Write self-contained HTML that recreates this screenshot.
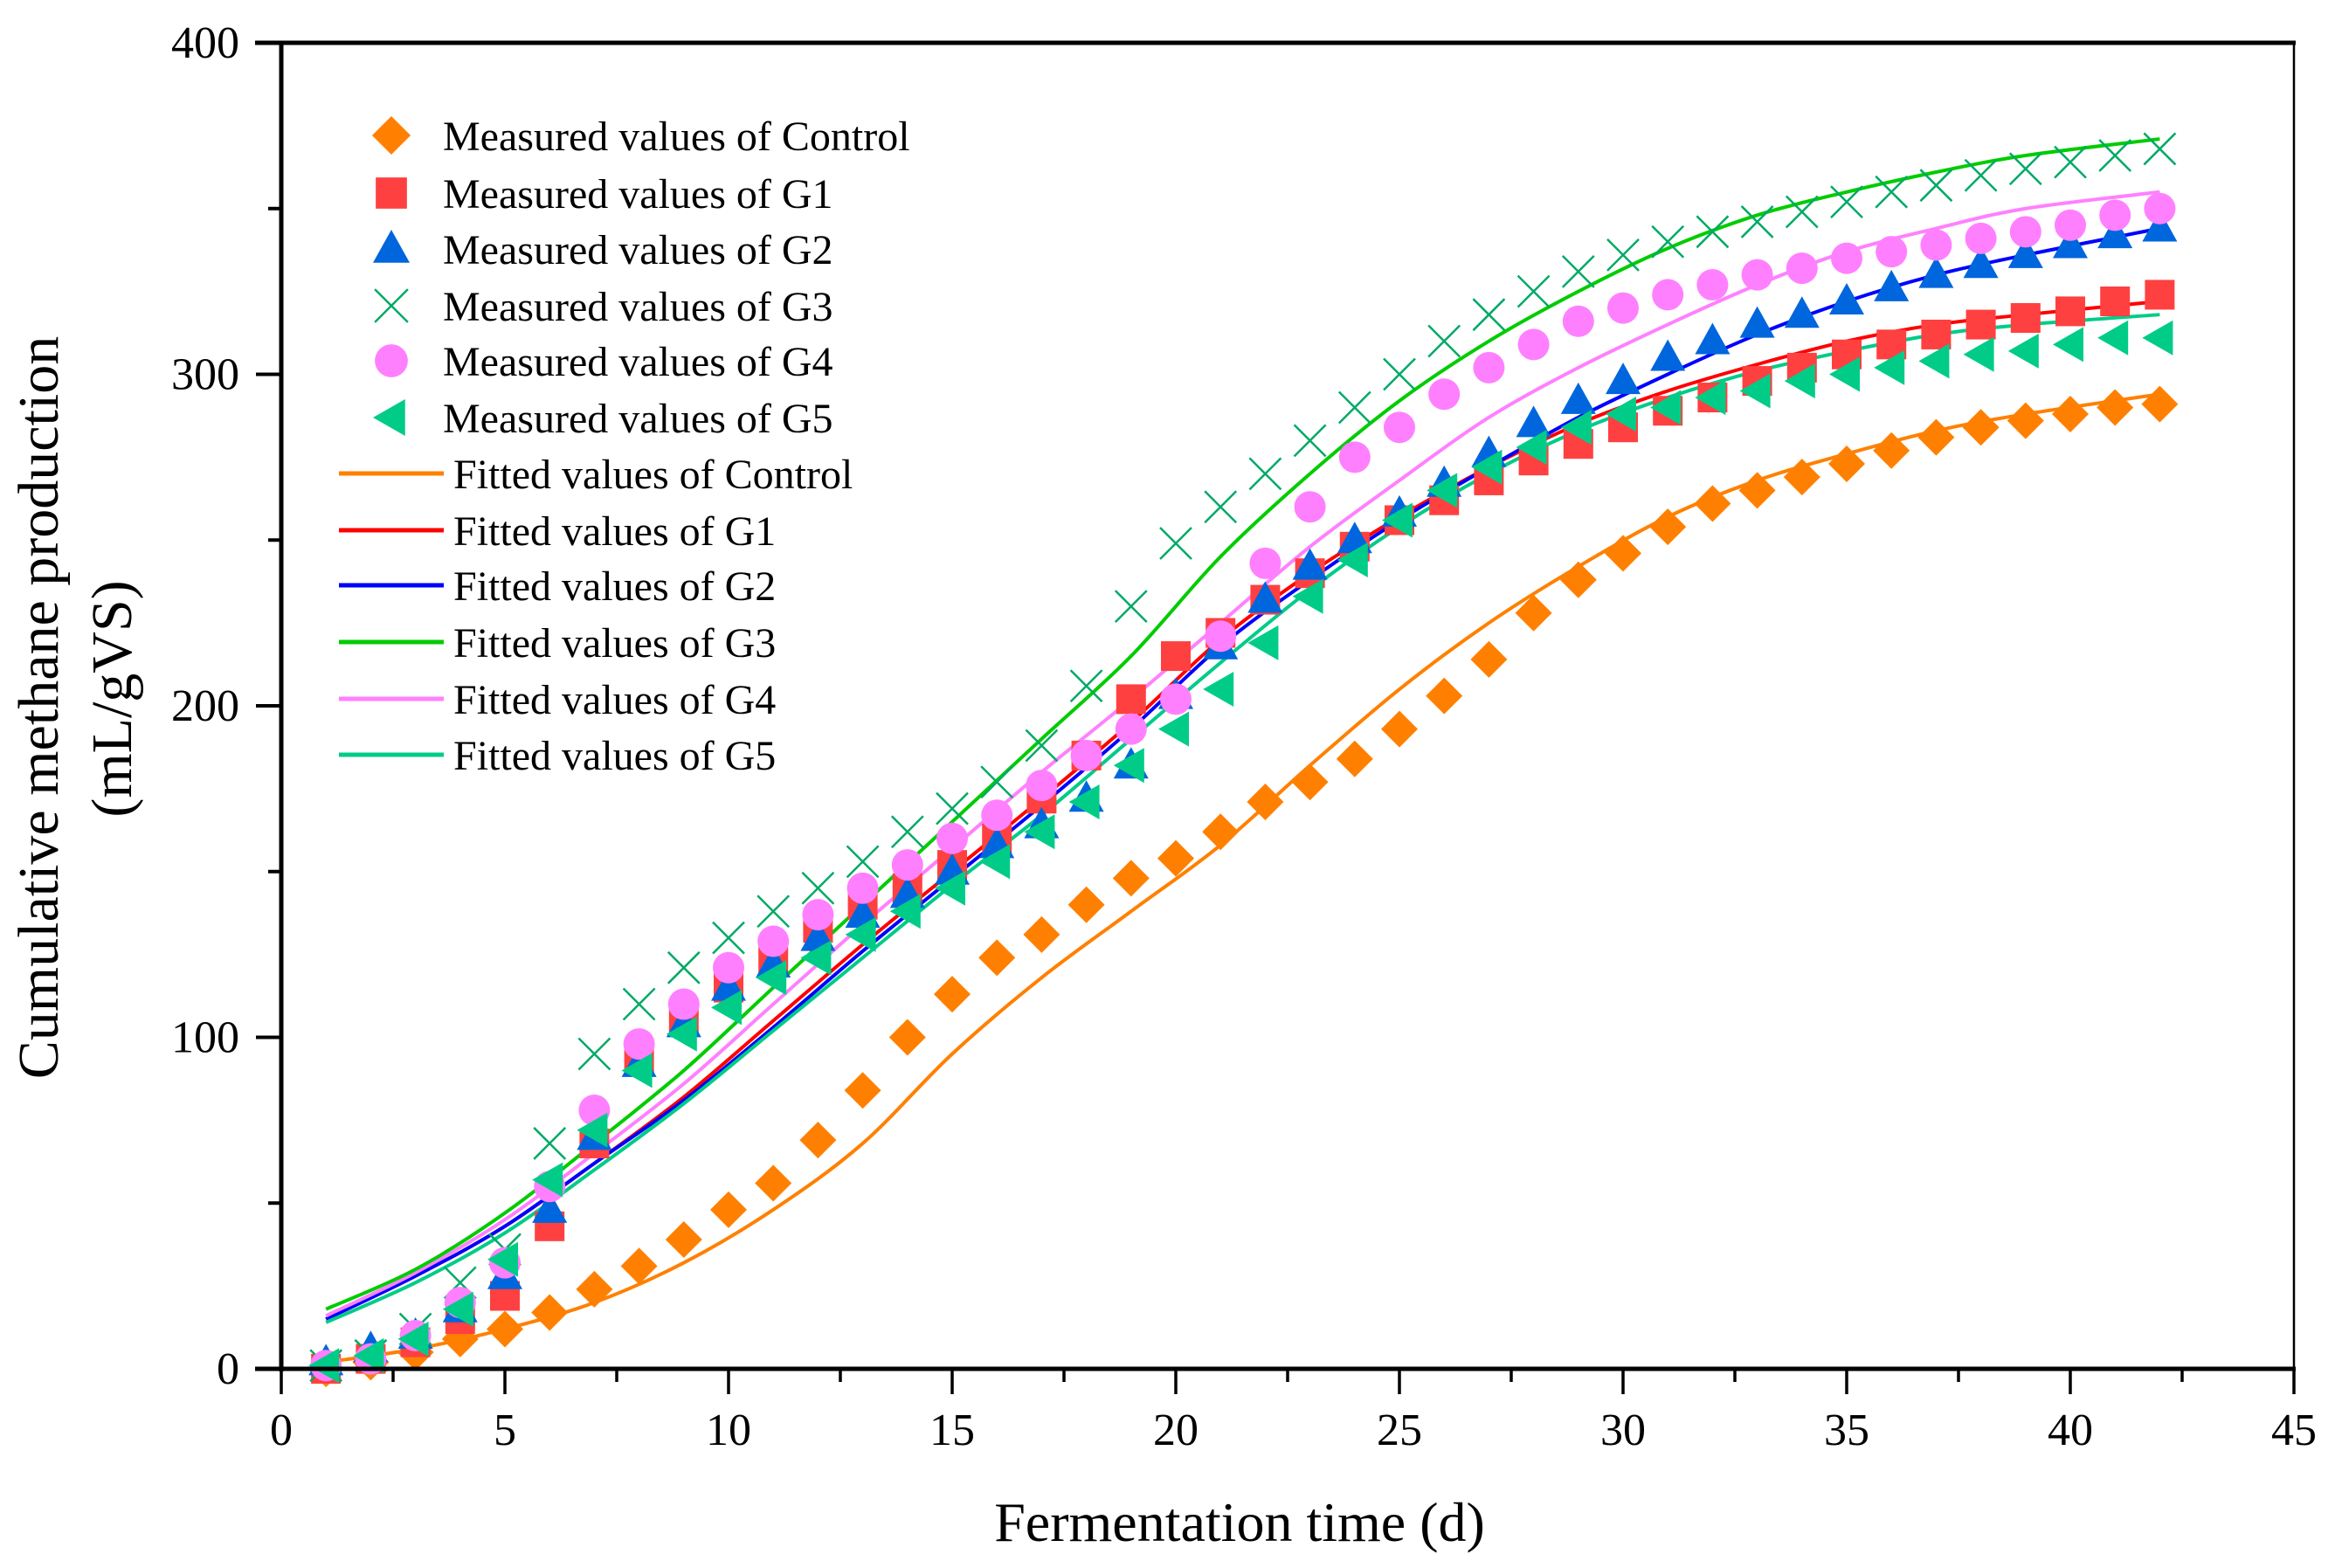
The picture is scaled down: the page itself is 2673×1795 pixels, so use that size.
<!DOCTYPE html>
<html><head><meta charset="utf-8"><style>
html,body{margin:0;padding:0;background:#fff;}
svg{display:block;font-family:"Liberation Serif",serif;}
</style></head><body>
<svg id="chart" width="2673" height="1795" viewBox="0 0 2673 1795" xmlns="http://www.w3.org/2000/svg"></svg>
<script>
const days = Array.from({length:42},(_,i)=>i+1);
const controlMeasured=[0,2,5,9,12,17,24,31,39,48,56,69,84,100,113,124,131,140,148,154,162,171,177,184,193,203,214,228,238,246,254,261,265,269,273,277,281,284,286,288,290,291];
const g1Measured=[0,3,8,15,22,43,68,93,106,115,124,133,140,145,152,160,172,185,202,215,222,232,240,248,256,262,268,274,279,284,289,293,298,302,306,309,312,315,317,319,322,324];
const g2Measured=[2,6,10,18,28,48,70,92,104,115,122,130,137,143,150,158,164,172,182,203,218,232,242,250,258,267,276,285,292,298,305,310,315,318,322,326,330,333,336,339,342,344];
const g3Measured=[1,4,12,26,36,68,95,110,121,130,138,145,153,162,169,177,188,206,230,249,260,270,280,290,300,310,318,325,331,336,340,343,346,349,352,355,357,360,362,364,366,368];
const g4Measured=[1,3,10,20,32,55,78,98,110,121,129,137,145,152,160,167,176,185,193,202,221,243,260,275,284,294,302,309,316,320,324,327,330,332,335,337,339,341,343,345,348,350];
const g5Measured=[1,4,9,18,33,57,72,90,101,109,118,124,131,138,145,153,162,171,182,193,205,219,233,244,256,265,272,278,284,288,290,293,295,298,300,302,304,306,307,309,311,311];
const fitDays=[1,3,5,7,9,11,13,15,17,19,21,23,25,27,29,31,33,35,37,39,42];
const controlFit=[2,6,12,20,32,48,68,95,118,138,158,182,205,225,242,257,268,276,283,288,294];
const g1Fit=[15,28,43,62,82,105,128,150,172,195,220,240,257,272,285,295,303,310,315,318,322];
const g2Fit=[15,28,43,62,81,103,126,148,170,193,218,238,256,272,287,300,312,322,330,336,344];
const g3Fit=[18,30,47,68,90,115,140,165,190,215,245,270,292,310,325,338,348,355,361,366,371];
const g4Fit=[16,29,45,65,86,110,134,157,180,202,225,248,268,287,302,315,327,337,344,350,355];
const g5Fit=[14,26,41,60,80,102,124,146,167,190,213,235,254,270,283,293,301,307,312,315,318];
const xTicks=[0,5,10,15,20,25,30,35,40,45];
const yTicks=[0,100,200,300,400];

const L=322,R=2626,T=49,B=1567;
const sx=v=>L+(v/45)*(R-L);
const sy=v=>B-(v/400)*(B-T);
const svg=document.getElementById('chart');
const NS='http://www.w3.org/2000/svg';
function mk(tag,attrs,parent){const e=document.createElementNS(NS,tag);for(const k in attrs)e.setAttribute(k,attrs[k]);(parent||svg).appendChild(e);return e;}

const fits=[[controlFit,'#ff8000','fit-control'],[g1Fit,'#ff0000','fit-g1'],[g2Fit,'#0000ff','fit-g2'],[g5Fit,'#00cc88','fit-g5'],[g4Fit,'#ff80ff','fit-g4'],[g3Fit,'#00cc00','fit-g3']];
function smoothPath(xs,ys){let d='M'+sx(xs[0])+','+sy(ys[0]);for(let i=0;i<xs.length-1;i++){const x0=xs[Math.max(i-1,0)],y0=ys[Math.max(i-1,0)],x1=xs[i],y1=ys[i],x2=xs[i+1],y2=ys[i+1],x3=xs[Math.min(i+2,xs.length-1)],y3=ys[Math.min(i+2,xs.length-1)];
const c1x=x1+(x2-x0)/6,c1y=y1+(y2-y0)/6,c2x=x2-(x3-x1)/6,c2y=y2-(y3-y1)/6;d+=' C'+sx(c1x)+','+sy(c1y)+' '+sx(c2x)+','+sy(c2y)+' '+sx(x2)+','+sy(y2);}return d;}
for(const [arr,col,name] of fits){const p=mk('path',{d:smoothPath(fitDays,arr),fill:'none',stroke:col,'stroke-width':4});

}

function marker(type,x,y,col,g,s){
 s=s||1;
 if(type==='diamond')return mk('polygon',{points:`${x},${y-21*s} ${x+21*s},${y} ${x},${y+21*s} ${x-21*s},${y}`,fill:col},g);
 if(type==='square')return mk('rect',{x:x-17*s,y:y-17*s,width:34*s,height:34*s,fill:col},g);
 if(type==='tri')return mk('polygon',{points:`${x},${y-21*s} ${x+20*s},${y+15*s} ${x-20*s},${y+15*s}`,fill:col},g);
 if(type==='cross')return mk('path',{d:`M${x-18*s},${y-18*s}L${x+18*s},${y+18*s}M${x-18*s},${y+18*s}L${x+18*s},${y-18*s}`,stroke:col,'stroke-width':2.5,fill:'none'},g);
 if(type==='circle')return mk('circle',{cx:x,cy:y,r:18*s,fill:col},g);
 if(type==='ltri')return mk('polygon',{points:`${x-20*s},${y} ${x+15*s},${y-20*s} ${x+15*s},${y+20*s}`,fill:col},g);
}
const meas=[[controlMeasured,'diamond','#ff8000','control'],[g1Measured,'square','#ff4040','g1'],[g2Measured,'tri','#0066dd','g2'],[g3Measured,'cross','#00aa66','g3'],[g4Measured,'circle','#ff80ff','g4'],[g5Measured,'ltri','#00cc88','g5']];
for(const [arr,type,col,name] of meas){
 const g=mk('g',{});
 
 
 days.forEach((d,i)=>{const m=marker(type,sx(d),sy(arr[i]),col,g);
  
  });
}

const ax=mk('g',{});


mk('rect',{x:L,y:T,width:R-L,height:B-T,fill:'none',stroke:'#000','stroke-width':2.5},ax);
mk('line',{x1:L,y1:T-2,x2:L,y2:B+3,stroke:'#000','stroke-width':5},ax);
mk('line',{x1:L-30,y1:B,x2:R+2,y2:B,stroke:'#000','stroke-width':5},ax);
mk('line',{x1:L-30,y1:T,x2:R+2,y2:T,stroke:'#000','stroke-width':5},ax);
for(let v=0;v<=45;v+=2.5){const maj=v%5===0;mk('line',{x1:sx(v),y1:B,x2:sx(v),y2:B+(maj?29:15),stroke:'#000','stroke-width':3.5},ax);}
for(let v=0;v<=400;v+=50){const maj=v%100===0;mk('line',{x1:L,y1:sy(v),x2:L-(maj?29:15),y2:sy(v),stroke:'#000','stroke-width':4},ax);}
xTicks.forEach(v=>{const t=mk('text',{x:sx(v),y:1654,'font-size':52,'text-anchor':'middle'},ax);t.textContent=v;
 
 });
yTicks.forEach(v=>{const t=mk('text',{x:274,y:sy(v)+17,'font-size':52,'text-anchor':'end'},ax);t.textContent=v;
 
 });
const xt=mk('text',{x:1419,y:1764,'font-size':64,'text-anchor':'middle'});xt.textContent='Fermentation time (d)';


const yt=mk('text',{x:0,y:0,'font-size':66,'text-anchor':'middle',transform:'translate(66,810) rotate(-90)'});yt.textContent='Cumulative methane production';


const yt2=mk('text',{x:0,y:0,'font-size':66,'text-anchor':'middle',transform:'translate(150,800) rotate(-90)'});yt2.textContent='(mL/gVS)';



const lg=mk('g',{});


const rowY=[155,221,285,350,413,478,542,607,670,735,800,864];
const names=['Control','G1','G2','G3','G4','G5'];
meas.forEach(([a,type,col,name],i)=>{marker(type,448,rowY[i],col,lg,1.05);
 const t=mk('text',{x:507,y:rowY[i]+17,'font-size':48},lg);t.textContent='Measured values of '+names[i];
 
 });
const lcols=['#ff8000','#ff0000','#0000ff','#00cc00','#ff80ff','#00cc88'];
lcols.forEach((c,i)=>{const y=rowY[6+i];mk('line',{x1:388,y1:y,x2:508,y2:y,stroke:c,'stroke-width':5},lg);
 const t=mk('text',{x:519,y:y+17,'font-size':48},lg);t.textContent='Fitted values of '+names[i];
 
 });
</script>
</body></html>
